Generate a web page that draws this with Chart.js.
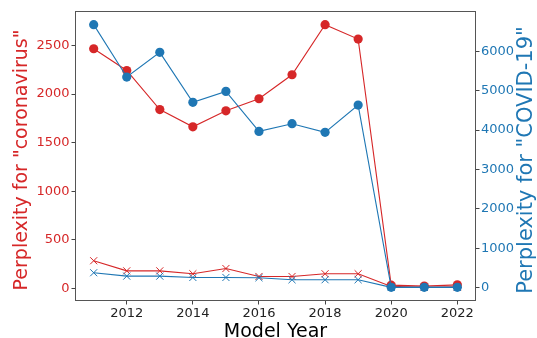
<!DOCTYPE html>
<html>
<head>
<meta charset="utf-8">
<script src="https://cdn.jsdelivr.net/npm/chart.js@4/dist/chart.umd.min.js"></script>
<style>
  html, body { margin: 0; padding: 0; background: #ffffff; }
  canvas { display: block; }
</style>
</head>
<body>
<canvas id="chart" width="537" height="338"></canvas>
<script>
// Model years on the x axis
const years = [2011, 2012, 2013, 2014, 2015, 2016, 2017, 2018, 2019, 2020, 2021, 2022];

// Perplexity for "coronavirus" (left axis)
const coronavirusDots   = [2466, 2242, 1840, 1662, 1827, 1951, 2198, 2714, 2565, 33, 23, 36];
const coronavirusCrosses = [284, 180, 180, 150, 204, 122, 122, 150, 150, 20, 10, 15];

// Perplexity for "COVID-19" (right axis)
const covidDots    = [6675, 5345, 5972, 4703, 4982, 3967, 4162, 3942, 4635, 10, 10, 10];
const covidCrosses = [381, 295, 295, 261, 261, 254, 203, 203, 203, 10, 10, 10];

// Tick labels
const yearTicks  = [2012, 2014, 2016, 2018, 2020, 2022];
const leftTicks  = [0, 500, 1000, 1500, 2000, 2500];
const rightTicks = [0, 1000, 2000, 3000, 4000, 5000, 6000];

const leftTitle  = 'Perplexity for "coronavirus"';
const rightTitle = 'Perplexity for "COVID-19"';
const xTitle     = 'Model Year';

const RED  = '#d62728';
const BLUE = '#1f77b4';
const FONT = "'DejaVu Sans', sans-serif";

const toPoints = vals => years.map((x, i) => ({ x, y: vals[i] }));

// axis limits padded by 5% of the data span on each side
function padded(arrays) {
  const all = [].concat(...arrays);
  const lo = Math.min(...all), hi = Math.max(...all);
  const m = (hi - lo) * 0.05;
  return { min: lo - m, max: hi + m };
}
const xLim = padded([years]);
const leftLim = padded([coronavirusDots, coronavirusCrosses]);
const rightLim = padded([covidDots, covidCrosses]);

const setTicks = list => scale => { scale.ticks = list.map(v => ({ value: v })); };

// frame around the plot area plus the three axis titles
const frameAndTitles = {
  id: 'frameAndTitles',
  afterDraw(chart) {
    const { ctx, chartArea: a } = chart;
    ctx.save();
    ctx.strokeStyle = '#555555';
    ctx.lineWidth = 1;
    ctx.strokeRect(a.left, a.top, a.right - a.left, a.bottom - a.top);

    const cy = (a.top + a.bottom) / 2 + 4;
    ctx.textAlign = 'center';
    ctx.textBaseline = 'alphabetic';

    ctx.save();
    ctx.font = '19px ' + FONT;
    ctx.fillStyle = RED;
    ctx.translate(a.left - 48.3, cy);
    ctx.rotate(-Math.PI / 2);
    ctx.fillText(leftTitle, 0, 0);
    ctx.restore();

    ctx.save();
    ctx.font = '21px ' + FONT;
    ctx.fillStyle = BLUE;
    ctx.translate(a.right + 56.5, cy);
    ctx.rotate(-Math.PI / 2);
    ctx.fillText(rightTitle, 0, 0);
    ctx.restore();

    ctx.font = '19px ' + FONT;
    ctx.fillStyle = '#000000';
    ctx.fillText(xTitle, (a.left + a.right) / 2, a.bottom + 36);
    ctx.restore();
  }
};

const dotStyle = color => ({
  borderColor: color,
  backgroundColor: color,
  pointBackgroundColor: color,
  pointBorderColor: color,
  pointBorderWidth: 0,
  pointRadius: 4.6,
  pointStyle: 'circle',
  borderWidth: 1.1
});
const crossStyle = color => ({
  borderColor: color,
  backgroundColor: color,
  pointBorderColor: color,
  pointBorderWidth: 1,
  pointRadius: 5,
  pointStyle: 'crossRot',
  borderWidth: 1.1
});

new Chart(document.getElementById('chart'), {
  type: 'line',
  data: {
    datasets: [
      { label: 'COVID-19', data: toPoints(covidDots), yAxisID: 'y1', ...dotStyle(BLUE) },
      { label: 'COVID-19 (x)', data: toPoints(covidCrosses), yAxisID: 'y1', ...crossStyle(BLUE) },
      { label: 'coronavirus', data: toPoints(coronavirusDots), yAxisID: 'y', ...dotStyle(RED) },
      { label: 'coronavirus (x)', data: toPoints(coronavirusCrosses), yAxisID: 'y', ...crossStyle(RED) }
    ]
  },
  options: {
    responsive: false,
    animation: false,
    events: [],
    layout: { padding: { top: 11.5, left: 0, right: 0, bottom: 0 } },
    plugins: { legend: { display: false }, tooltip: { enabled: false } },
    scales: {
      x: {
        type: 'linear',
        min: xLim.min,
        max: xLim.max,
        afterBuildTicks: setTicks(yearTicks),
        afterFit: s => { s.height = 37.5; },
        border: { display: false },
        grid: { drawOnChartArea: false, drawTicks: true, tickLength: 4, color: '#444444' },
        ticks: {
          color: '#222222',
          font: { family: FONT, size: 13 },
          padding: 1,
          maxRotation: 0,
          callback: v => String(v)
        }
      },
      y: {
        position: 'left',
        min: leftLim.min,
        max: leftLim.max,
        afterBuildTicks: setTicks(leftTicks),
        afterFit: s => { s.width = 75.5; },
        border: { display: false },
        grid: { drawOnChartArea: false, drawTicks: true, tickLength: 4, color: '#444444' },
        ticks: { color: RED, font: { family: FONT, size: 13 }, padding: 2, callback: v => String(v) }
      },
      y1: {
        position: 'right',
        min: rightLim.min,
        max: rightLim.max,
        afterBuildTicks: setTicks(rightTicks),
        afterFit: s => { s.width = 61.5; },
        border: { display: false },
        grid: { drawOnChartArea: false, drawTicks: true, tickLength: 4, color: '#444444' },
        ticks: { color: BLUE, font: { family: FONT, size: 13 }, padding: 1.5, callback: v => String(v) }
      }
    }
  },
  plugins: [frameAndTitles]
});
</script>
</body>
</html>
